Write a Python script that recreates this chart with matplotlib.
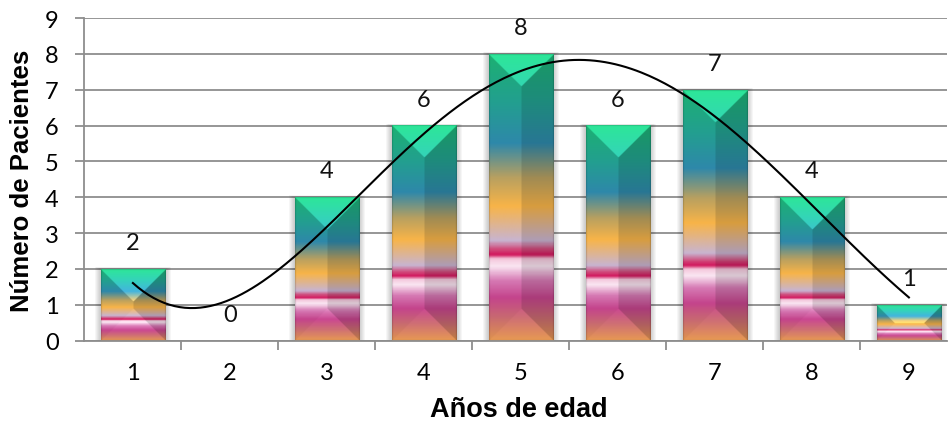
import numpy as np
import matplotlib.pyplot as plt
from matplotlib.colors import LinearSegmentedColormap, to_rgb

# datos del grafico
edades = [1, 2, 3, 4, 5, 6, 7, 8, 9]
pacientes = [2, 0, 4, 6, 8, 6, 7, 4, 1]

# linea de tendencia (x, y)
tend_x = [1.00, 1.24, 1.58, 1.93, 2.27, 2.61, 2.96, 3.30, 3.63, 3.88, 4.23, 4.57,
          4.91, 5.26, 5.60, 5.95, 6.29, 6.63, 6.77, 7.11, 7.46, 7.80, 8.14, 8.49, 8.83, 9.00]
tend_y = [1.61, 1.16, 0.90, 1.07, 1.53, 2.19, 3.12, 4.00, 4.84, 5.44, 6.30, 6.93,
          7.44, 7.72, 7.80, 7.72, 7.49, 7.02, 6.65, 6.00, 5.16, 4.32, 3.39, 2.51, 1.63, 1.18]
orden_tendencia = 6

# degradado tipo "arco iris" de Excel (de abajo hacia arriba)
paradas = [
    (0.00, '#e0944e'),
    (0.08, '#c86a70'),
    (0.15, '#c4448c'),
    (0.21, '#d67ab4'),
    (0.26, '#fae6f2'),
    (0.285, '#f4c8dc'),
    (0.30, '#d2185e'),
    (0.32, '#d04c7c'),
    (0.35, '#c8b4d0'),
    (0.47, '#f8b448'),
    (0.57, '#b8a060'),
    (0.69, '#2e88aa'),
    (0.84, '#22a08e'),
    (1.00, '#1cb072'),
]
cmap = LinearSegmentedColormap.from_list('arcoiris', [(p, to_rgb(c)) for p, c in paradas])

px_x = 97.0    # pixeles por categoria
px_y = 35.85   # pixeles por unidad
ancho = 0.66


def imagen_barra(valor):
    H = max(int(valor * px_y * 2), 2)
    W = int(ancho * px_x * 2)
    filas = np.arange(H)[:, None]
    cols = np.arange(W)[None, :]
    t = 1 - (filas + 0.5) / H          # 1 arriba, 0 abajo
    rgb = cmap(np.repeat(t, W, axis=1))[..., :3]
    d_top = np.broadcast_to(filas, (H, W)).astype(float)
    d_bot = np.broadcast_to(H - 1 - filas, (H, W)).astype(float)
    d_izq = np.broadcast_to(cols, (H, W)).astype(float)
    d_der = np.broadcast_to(W - 1 - cols, (H, W)).astype(float)
    caras = np.argmin(np.stack([d_top, d_bot, d_izq, d_der]), axis=0)
    out = rgb.copy()
    # arriba: mas claro y saturado
    m = caras == 0
    out[m] = np.clip(out[m] * 1.25 + 0.04, 0, 1)
    # abajo: apenas mas claro
    m = caras == 1
    out[m] = np.clip(out[m] * 1.02 + 0.01, 0, 1)
    # derecha: mas oscuro
    m = caras == 3
    out[m] = out[m] * 0.87
    # borde oscuro suave
    borde = np.minimum(np.minimum(d_top, d_bot), np.minimum(d_izq, d_der))
    out[borde < 2] *= 0.85
    return out


fig = plt.figure(figsize=(9.48, 4.31), dpi=100)
ax = fig.add_axes([84.4 / 948, 1 - 341.7 / 431, (947 - 84.4) / 948, (341.7 - 19) / 431])

for x, v in zip(edades, pacientes):
    if v <= 0:
        continue
    # sombra difusa
    for k in range(1, 7):
        dx = k / px_x
        dy = k / px_y
        ax.add_patch(plt.Rectangle((x - ancho / 2 - dx, -dy), ancho + 2 * dx, v + dy + dy * 0.3,
                                   color='black', alpha=0.035, lw=0, zorder=1))
    ax.imshow(imagen_barra(v), extent=[x - ancho / 2, x + ancho / 2, 0, v],
              aspect='auto', interpolation='bilinear', zorder=2)

for x, v in zip(edades, pacientes):
    ax.text(x, v + 0.74, str(v), ha='center', va='center', fontsize=17,
            family='Lato', color='#111111', zorder=5)

# linea de tendencia polinomica
coef = np.polyfit(tend_x, tend_y, orden_tendencia)
xs = np.linspace(1, 9, 300)
ax.plot(xs, np.polyval(coef, xs), color='black', lw=1.5, zorder=4)

ax.set_xlim(0.5, 0.5 + (947 - 84.4) / px_x)
ax.set_ylim(0, 9)
ax.set_yticks(range(0, 10))
ax.set_xticks(edades)
ax.set_xticks(np.arange(1.5, 9.5, 1), minor=True)
ax.grid(axis='y', color='#8e8e8e', lw=1.3, zorder=0)
ax.set_axisbelow(True)
ax.tick_params(axis='x', which='major', length=0, pad=15, labelsize=17)
ax.tick_params(axis='x', which='minor', length=6.5, width=1.3, color='#8e8e8e')
ax.tick_params(axis='y', length=6.5, width=1.3, color='#8e8e8e', pad=12, labelsize=17)
for lab in ax.get_xticklabels() + ax.get_yticklabels():
    lab.set_family('Lato')
for s in ['top', 'right']:
    ax.spines[s].set_visible(False)
for s in ['left', 'bottom']:
    ax.spines[s].set_color('#8e8e8e')
    ax.spines[s].set_linewidth(1.3)

ax.set_xlabel('Años de edad', fontsize=19.5, fontweight='bold', family='Liberation Sans', va='center')
ax.set_ylabel('Número de Pacientes', fontsize=18.5, fontweight='bold', family='Liberation Sans', va='center')
ax.xaxis.set_label_coords((519 - 84.4) / 862.6, (341.7 - 410) / 322.7)
ax.yaxis.set_label_coords((22 - 84.4) / 862.6, (341.7 - 181) / 322.7)

fig.savefig('out.png', dpi=100)
